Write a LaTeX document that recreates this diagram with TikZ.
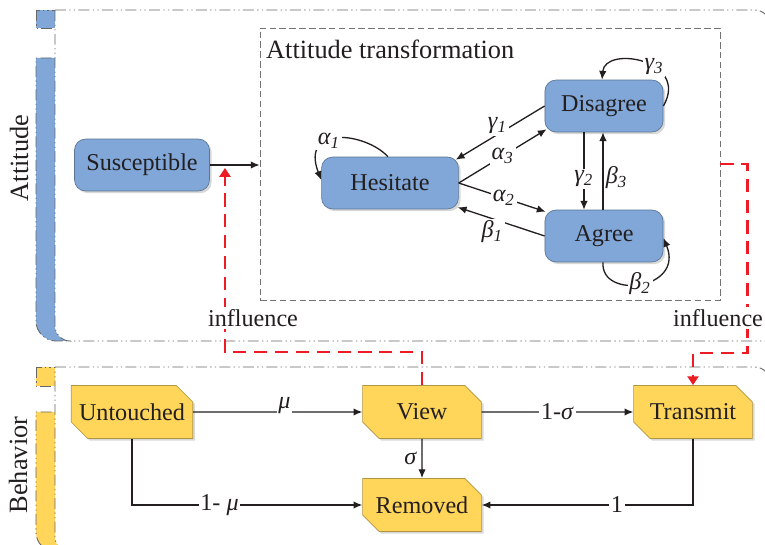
\documentclass[tikz,border=0pt]{standalone}
\usepackage{fontspec}
\setmainfont{Liberation Serif}
\usetikzlibrary{arrows.meta,shapes.misc,shadows,fit}
\definecolor{attblue}{RGB}{128,167,215}
\definecolor{behyel}{RGB}{255,213,90}
\definecolor{inflred}{RGB}{237,28,36}
\definecolor{ink}{RGB}{35,31,32}
\newcommand{\gk}[2]{\textit{#1\textsubscript{#2}}}
\tikzset{
	lane/.style={draw=black!60,line width=.4pt,dash pattern=on 5pt off 1.5pt on .6pt off 1.5pt on .6pt off 1.5pt},
	attnode/.style={draw=attblue!70!black,line width=.3pt,fill=attblue,rounded corners=5pt,minimum height=.83cm,text=ink,drop shadow={opacity=.3,shadow xshift=1pt,shadow yshift=-1pt}},
	behnode/.style={draw=behyel!70!black,line width=.3pt,fill=behyel,chamfered rectangle,chamfered rectangle corners={north east,south west},chamfered rectangle xsep=3.5pt,chamfered rectangle ysep=4pt,inner xsep=0pt,minimum width=1.9cm,minimum height=.85cm,text=ink,drop shadow={opacity=.3,shadow xshift=1pt,shadow yshift=-1pt}},
	flow/.style={draw=ink,line width=.6pt,-{Latex[length=4pt,width=3.4pt]}},
	influ/.style={draw=inflred,line width=1.1pt,dash pattern=on 6pt off 3.5pt,-{Triangle[length=4pt,width=5pt]}},
	rate/.style={fill=white,inner sep=.8pt,text=ink},
}
\begin{document}
\begin{tikzpicture}[x=.016cm,y=-.016cm,font=\fontsize{11}{13}\selectfont]
	\useasboundingbox (0,0) rectangle (765,545);
	\filldraw[lane,fill=attblue] (36,10) rectangle (55,28);
	\filldraw[lane,fill=attblue] (75,58) -- (36,58) -- (36,321) .. controls (36,332) and (45,341) .. (56,341) -- (75,341) -- cycle;
	\filldraw[lane,fill=white] (55,10) -- (755,10) .. controls (763,10) and (770,17) .. (770,25) -- (770,341) -- (70,341) .. controls (62,341) and (55,334) .. (55,326) -- cycle;
	\filldraw[lane,fill=behyel] (36,367) rectangle (55,386);
	\filldraw[lane,fill=behyel] (75,412) -- (36,412) -- (36,532) .. controls (36,543) and (45,552) .. (56,552) -- (75,552) -- cycle;
	\filldraw[lane,fill=white] (55,367) -- (755,367) .. controls (763,367) and (770,374) .. (770,382) -- (770,552) -- (70,552) .. controls (62,552) and (55,545) .. (55,537) -- cycle;
	\node[rotate=90,text=ink,font=\fontsize{12}{14}\selectfont] (attlbl) at (19,158) {Attitude};
	\node[rotate=90,text=ink,font=\fontsize{12}{14}\selectfont] (behlbl) at (18,465) {Behavior};
	\node[draw=black!55,dash pattern=on 3pt off 1.5pt,line width=.4pt,inner sep=0,fit={(260,28) (720,300)}] (trans) {};
	\node[anchor=north west,inner sep=1pt,text=ink,font=\fontsize{12}{14}\selectfont] (transttl) at ([shift={(4,10)}]trans.north west) {Attitude transformation};
	\node[attnode,minimum width=2.16cm] (Susceptible) at (142,165) {Susceptible};
	\node[attnode,minimum width=2.19cm] (Hesitate) at (390,183) {Hesitate};
	\node[attnode,minimum width=1.89cm] (Disagree) at (604,106) {Disagree};
	\node[attnode,minimum width=1.89cm] (Agree) at (604,236) {Agree};
	\node[behnode] (Untouched) at (132,412) {Untouched};
	\node[behnode] (View) at (422,412) {View};
	\node[behnode] (Removed) at (422,505) {Removed};
	\node[behnode] (Transmit) at (693,412) {Transmit};
	\draw[flow] (Susceptible) -- (Susceptible -| trans.west);
	\draw[flow] (Disagree.west) -- node[rate,pos=.53,yshift=4pt] {\gk{γ}{1}} ([shift={(-3,3)}]Hesitate.north east);
	\draw[flow] (Hesitate.east) -- node[rate] {\gk{α}{3}} ([shift={(2,-3)}]Disagree.south west);
	\draw[flow] (Hesitate.east) -- node[rate,pos=.52] {\gk{α}{2}} ([shift={(1,2)}]Agree.north west);
	\draw[flow] (Agree.west) -- node[rate,pos=.6,yshift=-6pt] {\gk{β}{1}} ([shift={(-1,-2)}]Hesitate.south east);
	\draw[flow] ([shift={(-20,0)}]Disagree.south) -- node[rate,pos=.6] {\gk{γ}{2}} ([shift={(-20,0)}]Agree.north);
	\draw[flow] ([shift={(-1,0)}]Agree.north) -- node[right,pos=.41,inner sep=1pt,text=ink] {\gk{β}{3}} ([shift={(-1,0)}]Disagree.south);
	\draw[flow] ([shift={(-2,0)}]Hesitate.north) .. controls (365,132) and (300,125) .. ([shift={(0,-3)}]Hesitate.west) node[rate,pos=.6] {\gk{α}{1}};
	\draw[flow] (Disagree.east) .. controls (690,60) and (605,45) .. ([shift={(-2,0)}]Disagree.north) node[rate,pos=.4] {\gk{γ}{3}};
	\draw[flow] ([shift={(-1,0)}]Agree.south) .. controls (600,300) and (685,290) .. ([shift={(0,2)}]Agree.east) node[rate,pos=.5] {\gk{β}{2}};
	\draw[flow] (Untouched) -- node[rate,pos=.54,yshift=3pt] {\textit{μ}} (View);
	\draw[flow] (View) -- node[rate] {1-\textit{σ}} (Transmit);
	\draw[flow] (View) -- node[left,inner sep=2pt,text=ink] {\textit{σ}} (Removed);
	\draw[flow] (Untouched) |- node[rate,pos=.69] {1- \textit{μ}} (Removed);
	\draw[flow] (Transmit) |- node[rate,pos=.68] {1} (Removed);
	\coordinate (hitS) at (225,168);
	\draw[influ] (View.north) -- ++(0,-33) -| (hitS);
	\draw[influ] (trans.east) -| ++(27,189) -| (Transmit.north);
	\node[fill=white,inner sep=1pt,text=ink] (inflL) at (253,318) {influence};
	\node[fill=white,inner sep=1pt,text=ink] (inflR) at (718,318) {influence};
\end{tikzpicture}
\end{document}
